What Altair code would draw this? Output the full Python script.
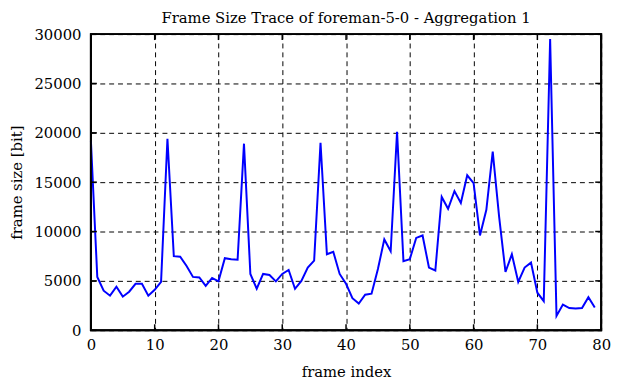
import altair as alt
import pandas as pd

frame = list(range(80))
size_bits = [19200, 5400, 4000, 3500, 4400, 3400, 3900, 4700, 4700, 3500,
             4100, 4900, 19400, 7500, 7450, 6500, 5400, 5350, 4500, 5300,
             4950, 7300, 7200, 7150, 18900, 5700, 4200, 5700, 5600, 4950,
             5700, 6100, 4200, 5000, 6350, 7050, 19000, 7700, 7950, 5700,
             4700, 3250, 2700, 3600, 3700, 6200, 9200, 8000, 20100, 7000,
             7200, 9350, 9600, 6350, 6050, 13500, 12300, 14100, 12900, 15700,
             14900, 9600, 12200, 18100, 11500, 5900, 7700, 4900, 6350, 6850,
             3800, 2950, 29500, 1450, 2600, 2250, 2200, 2250, 3350, 2300]

x_ticks = [0, 10, 20, 30, 40, 50, 60, 70, 80]
y_ticks = [0, 5000, 10000, 15000, 20000, 25000, 30000]

W, H = 517, 300
TL = 6
FONT = "DejaVu Serif"

df = pd.DataFrame({"frame": frame, "size": size_bits})
xt = pd.DataFrame({"t": x_ticks})
yt = pd.DataFrame({"t": y_ticks})
box = pd.DataFrame({"k": [0]})

xscale = alt.Scale(domain=[0, 80], nice=False, zero=False)
yscale = alt.Scale(domain=[0, 30000], nice=False)


def xaxis():
    return alt.Axis(values=x_ticks, title="frame index", format="d",
                    labelPadding=8, titlePadding=12, labelFlush=False)


def yaxis():
    return alt.Axis(values=y_ticks, title="frame size [bit]", format="d",
                    labelPadding=10, titlePadding=10, labelFlush=False)


line = alt.Chart(df).mark_line(color="#0000ff", strokeWidth=2).encode(
    x=alt.X("frame:Q", scale=xscale, axis=xaxis()),
    y=alt.Y("size:Q", scale=yscale, axis=yaxis()),
)

tick_style = dict(color="black", strokeWidth=1.5)
bottom = alt.Chart(xt).mark_rule(**tick_style).encode(
    x=alt.X("t:Q", scale=xscale, axis=xaxis()), y=alt.value(H), y2=alt.value(H - TL))
top = alt.Chart(xt).mark_rule(**tick_style).encode(
    x=alt.X("t:Q", scale=xscale, axis=xaxis()), y=alt.value(0), y2=alt.value(TL))
left = alt.Chart(yt).mark_rule(**tick_style).encode(
    y=alt.Y("t:Q", scale=yscale, axis=yaxis()), x=alt.value(0), x2=alt.value(TL))
right = alt.Chart(yt).mark_rule(**tick_style).encode(
    y=alt.Y("t:Q", scale=yscale, axis=yaxis()), x=alt.value(W), x2=alt.value(W - TL))

frame_box = alt.Chart(box).mark_rect(filled=False, color="black", strokeWidth=2).encode(
    x=alt.value(0), x2=alt.value(W), y=alt.value(0), y2=alt.value(H))

chart = alt.layer(line, bottom, top, left, right, frame_box).properties(
    width=W, height=H,
    background="white",
    title=alt.Title("Frame Size Trace of foreman-5-0 - Aggregation 1",
                    font=FONT, fontSize=15, fontWeight="normal", color="black",
                    anchor="middle", offset=1),
    autosize=alt.AutoSizeParams(type="none"),
    padding={"left": 84, "top": 24, "right": 12, "bottom": 50},
).configure_view(stroke="black", strokeWidth=2).configure_axis(
    grid=True, gridDash=[5, 4], gridColor="black", gridOpacity=1, gridWidth=1,
    domain=False, ticks=False, labelFont=FONT, labelFontSize=15, labelColor="black",
    titleFont=FONT, titleFontSize=15, titleFontWeight="normal", titleColor="black",
)

chart.save("out.html", embed_options={"renderer": "svg", "actions": False})
